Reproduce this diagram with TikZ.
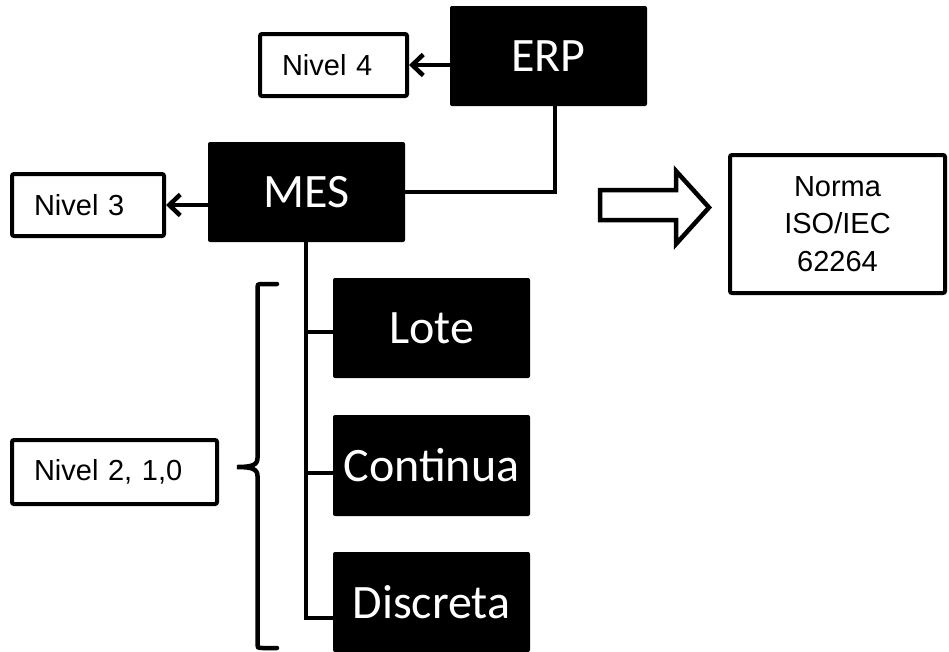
\documentclass[tikz,border=0pt]{standalone}
\usepackage{fontspec}
\setmainfont{Liberation Sans}
\newfontfamily\calibri{Carlito}
\usetikzlibrary{arrows.meta}
\begin{document}
\begin{tikzpicture}[x=1pt,y=-1pt,
  darkbox/.style={fill=black, rounded corners=2pt, text=white, inner sep=0pt,
    minimum width=197pt, minimum height=100pt,
    font=\calibri\fontsize{48}{58}\selectfont},
  levelbox/.style={draw=black, line width=4pt, rounded corners=2pt, fill=white,
    inner xsep=22pt, inner ysep=0pt, align=left,
    font=\fontsize{29}{35}\selectfont},
  link/.style={line width=4.5pt},
  barb/.style={link, -{Straight Barb[length=11pt,width=21pt]}}]
\useasboundingbox (0,0) rectangle (949,651);
\fill[white] (0,0) rectangle (949,651);

% system layers
\node[darkbox] (erp) at (548.5,56) {ERP};
\node[darkbox] (mes) at (306.5,192) {MES};
\node[darkbox] (lote) at (431.5,328) {Lote};
\node[darkbox, minimum height=101pt] (cont) at (431.5,465.5) {Continua};
\node[darkbox] (disc) at (431.5,602) {Discreta};

% level labels
\node[levelbox, text width=103pt, minimum height=62pt] (n4) at (333.5,65) {Nivel 4};
\node[levelbox, text width=108pt, minimum height=62pt] (n3) at (88,205) {Nivel 3};
\node[levelbox, text width=161pt, minimum height=64pt] (n2) at (114.5,472) {Nivel 2, 1,0};
\node[levelbox, align=center, inner xsep=0pt, minimum width=215pt, minimum height=138pt,
  font=\fontsize{29}{37.5}\selectfont] (iso) at (837.5,224) {Norma\\ISO/IEC\\62264};

% connectors
\draw[barb] (erp.west |- n4.east) -- (n4.east);
\draw[barb] (mes.west |- n3.east) -- (n3.east);
\coordinate (drop) at (555,0);
\draw[link] (drop |- erp.south) |- (mes.east);

\coordinate (trunk) at (306,0);
\coordinate (tlote) at (0,332);
\coordinate (tcont) at (0,473);
\coordinate (tdisc) at (0,618);
\draw[link] (trunk |- mes.south) |- (disc.west |- tdisc);
\draw[link] (trunk |- tlote) -- (lote.west |- tlote);
\draw[link] (trunk |- tcont) -- (cont.west |- tcont);

% hollow block arrow towards the standard
\draw[line width=4.5pt, fill=white, line join=miter]
  (600,190) -- (676,190) -- (676,171) -- (709,207.5) -- (676,244) -- (676,220)
  -- (600,220) -- cycle;

% curly brace grouping the lower levels
\draw[link, line cap=round]
  (277,284) -- (263,284) .. controls (257.5,284) .. (257.5,290) -- (257.5,458)
  .. controls (257.5,465) and (252,467) .. (237,467)
  .. controls (252,467) and (257.5,469) .. (257.5,476) -- (257.5,642)
  .. controls (257.5,648) .. (263,648) -- (277,648);
\end{tikzpicture}
\end{document}
